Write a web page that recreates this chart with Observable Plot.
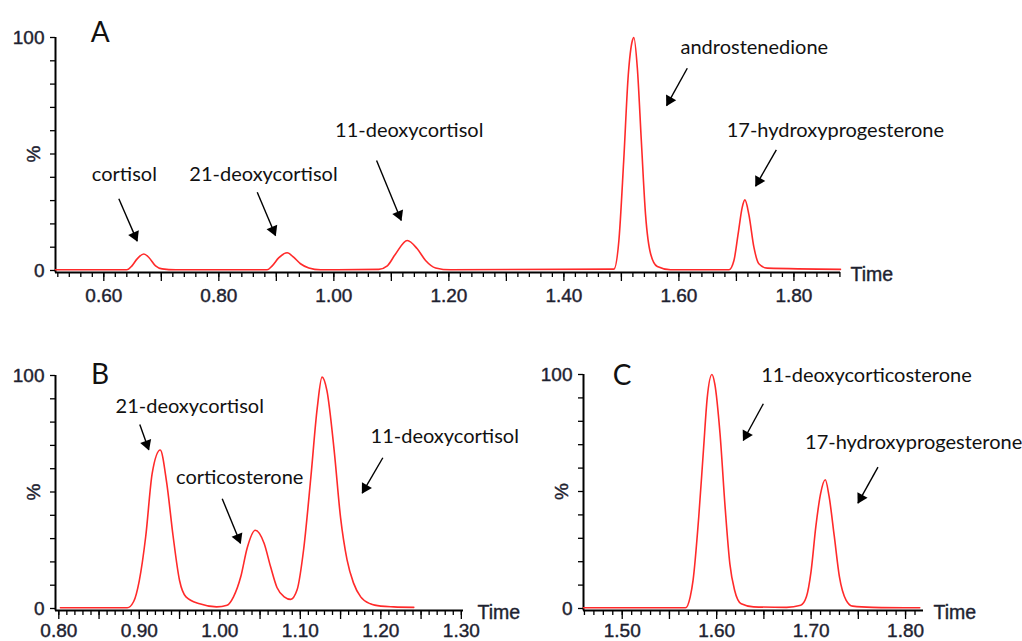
<!DOCTYPE html>
<html>
<head>
<meta charset="utf-8">
<script src="https://cdn.jsdelivr.net/npm/d3@7"></script>
<script src="https://cdn.jsdelivr.net/npm/@observablehq/plot@0.6"></script>
<style>
  html, body { margin: 0; padding: 0; background: #fff; }
  #wrap { position: relative; width: 1022px; height: 641px; background: #fff; overflow: hidden; }
  .panel { position: absolute; }
</style>
</head>
<body>
<div id="wrap">
  <div id="pa" class="panel" style="left:0;top:0"></div>
  <div id="pb" class="panel" style="left:0;top:330px"></div>
  <div id="pc" class="panel" style="left:525px;top:330px"></div>
</div>
<script>
// ---------- Panel A: full chromatogram ----------
const timeA = [0.516,0.640,0.649,0.658,0.6696,0.678,0.690,0.7014,0.725,
  0.884,0.8928,0.904,0.9188,0.930,0.942,0.9565,0.977,
  1.078,1.093,1.107,1.1277,1.145,1.1595,1.177,1.203,
  1.487,1.4957,1.504,1.512,1.519,1.5217,1.5277,1.5346,1.542,1.551,1.5625,1.5856,
  1.687,1.6957,1.703,1.710,1.7148,1.7217,1.7304,1.739,1.7537,1.881];
const intA = [0.3,0.3,2,5,7.1,5.7,2,0.7,0.3,
  0.3,2,5.4,7.6,5.7,2.9,1.1,0.3,
  0.5,2,7,12.9,9.3,4.3,1.1,0.3,
  0.6,13,47,84,98.6,100,87,56,24,7,1.7,0.3,
  0.3,4.3,15.7,27,30.3,24,10,2.9,1,0.5];
const namesA = ["cortisol","21-deoxycortisol","11-deoxycortisol","androstenedione","17-hydroxyprogesterone"];
const nameXA = [0.6357,0.8777,1.1311,1.7311,1.872];
const nameYA = [38.6,38.6,57.2,93.0,57.5];
const arrowsA = [[0.6261,30.8,0.6581,12.6],[0.8668,33.6,0.8986,15.0],[1.0743,47.2,1.1172,21.5],
  [1.6146,86.8,1.5786,70.8],[1.7694,51.8,1.7334,36.2]];
const ticksLabelA = [0.6,0.8,1.0,1.2,1.4,1.6,1.8];
const ticksMidA = [0.7,0.9,1.1,1.3,1.5,1.7];
const ticksMinorA = d3.range(52,189,2).map(d => d/100);

// ---------- Panel B ----------
const timeB = [0.802,0.885,0.893,0.900,0.908,0.916,0.926,0.934,0.942,0.950,0.958,0.975,0.996,
  1.009,1.017,1.026,1.034,1.044,1.055,1.063,1.071,1.080,1.088,
  1.096,1.104,1.113,1.121,1.127,1.133,1.142,1.150,1.158,1.166,1.175,1.187,1.200,1.216,1.241];
const intB = [0.3,0.3,3,12,31,58,68,54,31,12,5,2,0.7,
  1.4,5,13.6,26,33.6,28,18,9,5,3.9,
  8,25,56,86,99.3,93.6,68,39,21,11,5,2,1,0.7,0.5];
const namesB = ["21-deoxycortisol","corticosterone","11-deoxycortisol"];
const nameXB = [0.9626,1.0247,1.2794];
const nameYB = [84.0,53.5,70.9];
const arrowsB = [[0.9006,79.0,0.9118,68.1],[1.0030,47.1,1.0257,28.0],[1.2025,64.7,1.1769,49.5]];
const ticksLabelB = [0.8,0.9,1.0,1.1,1.2,1.3];
const ticksMidB = [0.85,0.95,1.05,1.15,1.25];
const ticksMinorB = d3.range(80,131,1).map(d => d/100);

// ---------- Panel C ----------
const timeC = [1.459,1.567,1.572,1.575,1.581,1.586,1.590,1.595,1.598,1.6035,1.609,1.614,1.619,1.626,1.639,
  1.674,1.689,1.695,1.700,1.705,1.710,1.715,1.719,1.7245,1.730,1.737,1.744,1.765,1.815];
const intC = [0.3,0.3,5,12,39,67.6,90,100,96,75,43,19,7.8,2,0.7,
  0.5,1.4,5,16,35,49,55,48,31,13.5,3.6,1,0.5,0.3];
const namesC = ["11-deoxycorticosterone","17-hydroxyprogesterone"];
const nameXC = [1.7586,1.8086];
const nameYC = [96.7,68.2];
const arrowsC = [[1.6494,87.5,1.6282,71.8],[1.7708,60.4,1.7496,45.0]];
const ticksLabelC = [1.5,1.6,1.7,1.8];
const ticksMidC = [1.55,1.65,1.75];
const ticksMinorC = d3.range(146,182,1).map(d => d/100);

const letters = ["A","B","C"];
const letterX = [0.5937,0.8512,1.50];
const letterY = [98.0,96.4,95.7];
const yTicks = [0,10,20,30,40,50,60,70,80,90,100];
const yLabelTicks = [0,100];

const AXIS_FONT = "'Liberation Sans', Arial, sans-serif";
const NOTE_FONT = "Lato, 'Open Sans', sans-serif";
const INK = "#1e2230";

function panel(cfg) {
  const {el, width, height, ml, mr, mt, mb, domain, time, intensity, letterIdx,
         names, nameX, nameY, arrows, tLabel, tMid, tMinor, labelDy, timeDx} = cfg;
  const sx = Plot.scale({x: {domain, range: [ml, width - mr]}});
  const sy = Plot.scale({y: {domain: [0, 100], range: [height - mb, mt]}});
  const series = time.map((t, i) => ({t, v: intensity[i]}));
  const notes = names.map((n, i) => ({n, x: nameX[i], y: nameY[i]}));
  const arr = arrows.map(([x1, y1, x2, y2]) => {
    const px1 = sx.apply(x1), py1 = sy.apply(y1), px2 = sx.apply(x2), py2 = sy.apply(y2);
    const ang = Math.atan2(py2 - py1, px2 - px1);
    const back = 6;
    const hx = px2 - back * Math.cos(ang), hy = py2 - back * Math.sin(ang);
    return {x1, y1, x2, y2, hx: sx.invert(hx), hy: sy.invert(hy), rot: ang * 180 / Math.PI + 90};
  });
  const axisText = {fontSize: 19, fill: INK, stroke: INK, strokeWidth: 0.4, fontFamily: AXIS_FONT};
  const svg = Plot.plot({
    width, height,
    marginLeft: ml, marginRight: mr, marginTop: mt, marginBottom: mb,
    style: {background: "transparent", overflow: "visible", fontFamily: AXIS_FONT},
    x: {domain, axis: null},
    y: {domain: [0, 100], axis: null},
    marks: [
      // axes lines
      Plot.ruleY([0], {x1: domain[0], x2: domain[1], stroke: "#000", strokeWidth: 2, dy: 2}),
      Plot.ruleX([domain[0]], {y1: -1, y2: 100, stroke: "#000", strokeWidth: 2}),
      // x ticks
      Plot.axisX({ticks: tMinor, tickSize: 5, tickFormat: () => "", label: null, dy: 2, stroke: "#000", strokeWidth: 1.3}),
      Plot.axisX({ticks: tMid.concat(tLabel), tickSize: 9, tickFormat: () => "", label: null, dy: 2, stroke: "#000", strokeWidth: 1.3}),
      Plot.text(tLabel, {x: d => d, y: 0, text: d3.format(".2f"), dy: labelDy, lineAnchor: "top", ...axisText}),
      // y ticks
      Plot.axisY({ticks: yTicks, tickSize: 5, tickFormat: () => "", label: null, stroke: "#000", strokeWidth: 1.3}),
      Plot.text(yLabelTicks, {x: domain[0], y: d => d, text: d => String(d), dx: -11, textAnchor: "end",
                lineAnchor: "middle", ...axisText}),
      Plot.text(["%"], {x: domain[0], y: 50, dx: -22, rotate: -90, ...axisText}),
      Plot.text(["Time"], {x: domain[1], y: 0, dx: timeDx, dy: 10, textAnchor: "start", lineAnchor: "bottom",
                ...axisText, fontSize: 19.5}),
      // trace
      Plot.line(series, {x: "t", y: "v", stroke: "#ff2a2a", strokeWidth: 1.6, curve: "monotone-x"}),
      // annotations
      Plot.text([letters[letterIdx]], {x: letterX[letterIdx], y: letterY[letterIdx], lineAnchor: "bottom",
                fontSize: 28, fill: "#111", fontFamily: NOTE_FONT}),
      Plot.text(notes, {x: "x", y: "y", text: "n", lineAnchor: "bottom", fontSize: 20, fill: "#111", fontFamily: NOTE_FONT}),
      Plot.link(arr, {x1: "x1", y1: "y1", x2: "x2", y2: "y2", stroke: "#000", strokeWidth: 1.4}),
      Plot.dot(arr, {x: "hx", y: "hy", rotate: "rot", symbol: "triangle", r: 4.3, fill: "#000", stroke: "none"})
    ]
  });
  document.getElementById(el).appendChild(svg);
}

panel({el: "pa", width: 1022, height: 320, ml: 55, mr: 182, mt: 37, mb: 50,
  domain: [0.516, 1.881], time: timeA, intensity: intA, letterIdx: 0,
  names: namesA, nameX: nameXA, nameY: nameYA, arrows: arrowsA,
  tLabel: ticksLabelA, tMid: ticksMidA, tMinor: ticksMinorA, labelDy: 18, timeDx: 10});
panel({el: "pb", width: 525, height: 311, ml: 55, mr: 62, mt: 45, mb: 33,
  domain: [0.7959, 1.3027], time: timeB, intensity: intB, letterIdx: 1,
  names: namesB, nameX: nameXB, nameY: nameYB, arrows: arrowsB,
  tLabel: ticksLabelB, tMid: ticksMidB, tMinor: ticksMinorB, labelDy: 14.5, timeDx: 14});
panel({el: "pc", width: 497, height: 311, ml: 58, mr: 99, mt: 44, mb: 33,
  domain: [1.459, 1.819], time: timeC, intensity: intC, letterIdx: 2,
  names: namesC, nameX: nameXC, nameY: nameYC, arrows: arrowsC,
  tLabel: ticksLabelC, tMid: ticksMidC, tMinor: ticksMinorC, labelDy: 14.5, timeDx: 10});
</script>
</body>
</html>
